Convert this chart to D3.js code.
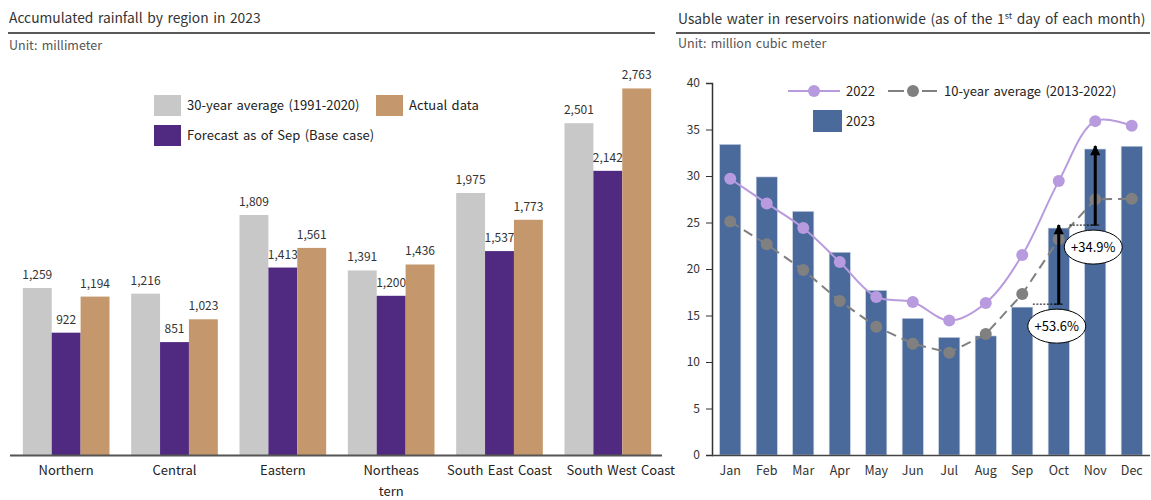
<!DOCTYPE html>
<html>
<head>
<meta charset="utf-8">
<script src="https://cdn.jsdelivr.net/npm/d3@7"></script>
<style>
  body { margin: 0; background: #fff; }
  svg text { font-family: "Noto Sans CJK KR", "Noto Sans", sans-serif; word-spacing: 1.5px; }
</style>
</head>
<body>
<div id="chart"></div>
<script>
// left chart data
var regions = ["Northern", "Central", "Eastern", "Northeastern", "South East Coast", "South West Coast"];
var regionLabels = [["Northern"], ["Central"], ["Eastern"], ["Northeas", "tern"], ["South East Coast"], ["South West Coast"]];
var avg30 = [1259, 1216, 1809, 1391, 1975, 2501];
var forecastSep = [922, 851, 1413, 1200, 1537, 2142];
var actual = [1194, 1023, 1561, 1436, 1773, 2763];

// right chart data
var months = ["Jan", "Feb", "Mar", "Apr", "May", "Jun", "Jul", "Aug", "Sep", "Oct", "Nov", "Dec"];
var water2023 = [33.4, 29.9, 26.2, 21.8, 17.7, 14.7, 12.65, 12.8, 15.9, 24.4, 32.9, 33.2];
var water2022 = [29.7, 27.05, 24.4, 20.75, 17.0, 16.45, 14.45, 16.35, 21.5, 29.45, 35.9, 35.4];
var avg10 = [25.1, 22.65, 19.9, 16.55, 13.8, 11.97, 11.0, 13.0, 17.3, 23.2, 27.5, 27.55];
var yTicks = [0, 5, 10, 15, 20, 25, 30, 35, 40];
var changeMonths = ["Oct", "Nov"];
var changeLabels = ["+53.6%", "+34.9%"];

var svg = d3.select("#chart").append("svg")
  .attr("width", 1151)
  .attr("height", 500);

// ---------- left: rainfall ----------
var left = svg.append("g");

left.append("text").attr("x", 9).attr("y", 23)
  .attr("font-size", 13.8).attr("fill", "#333")
  .text("Accumulated rainfall by region in 2023");
left.append("line").attr("x1", 8).attr("x2", 655).attr("y1", 33).attr("y2", 33)
  .attr("stroke", "#222").attr("stroke-width", 1.5);
left.append("text").attr("x", 9).attr("y", 50)
  .attr("font-size", 12.5).attr("fill", "#555")
  .text("Unit: millimeter");

var series = [
  { name: "30-year average (1991-2020)", values: avg30, color: "#c8c8c8" },
  { name: "Forecast as of Sep (Base case)", values: forecastSep, color: "#4f2a80" },
  { name: "Actual data", values: actual, color: "#c4986c" }
];

var x0 = d3.scaleBand().domain(regions).range([12, 662]).paddingInner(0.2).paddingOuter(0.1);
var x1 = d3.scaleBand().domain(d3.range(series.length)).range([0, x0.bandwidth()]);
var yL = d3.scaleLinear().domain([0, 3000]).range([455, 57]);

var groups = left.selectAll(".grp").data(regions).enter().append("g")
  .attr("transform", d => `translate(${x0(d)},0)`);

series.forEach(function(s, si) {
  groups.append("rect")
    .attr("x", x1(si))
    .attr("width", x1.bandwidth())
    .attr("y", (d, i) => yL(s.values[i]))
    .attr("height", (d, i) => 455 - yL(s.values[i]))
    .attr("fill", s.color);
  groups.append("text")
    .attr("x", x1(si) + x1.bandwidth() / 2)
    .attr("y", (d, i) => yL(s.values[i]) - 9)
    .attr("text-anchor", "middle")
    .attr("font-size", 12).attr("fill", "#333")
    .text((d, i) => d3.format(",")(s.values[i]));
});

left.append("line").attr("x1", 10).attr("x2", 662).attr("y1", 455.5).attr("y2", 455.5)
  .attr("stroke", "#555").attr("stroke-width", 2);

regions.forEach(function(r, i) {
  // the last label overflows the plot, so it starts at its band instead of centring
  var last = i === regions.length - 1;
  var lx = last ? x0(r) + 2 : x0(r) + x0.bandwidth() / 2;
  var t = left.append("text")
    .attr("x", lx)
    .attr("y", 475)
    .attr("text-anchor", last ? "start" : "middle")
    .attr("font-size", 13).attr("fill", "#222");
  regionLabels[i].forEach(function(line, li) {
    t.append("tspan").attr("x", lx).attr("dy", li ? 21 : 0).text(line);
  });
});

// legend
var legL = [
  { s: series[0], x: 154, y: 95 },
  { s: series[2], x: 376, y: 95 },
  { s: series[1], x: 154, y: 125 }
];
legL.forEach(function(l) {
  left.append("rect").attr("x", l.x).attr("y", l.y).attr("width", 27).attr("height", 21).attr("fill", l.s.color);
  left.append("text").attr("x", l.x + 33).attr("y", l.y + 15)
    .attr("font-size", 13).attr("fill", "#222").text(l.s.name);
});

// ---------- right: reservoirs ----------
var right = svg.append("g");

var title = right.append("text").attr("x", 678).attr("y", 24)
  .attr("font-size", 13.8).attr("fill", "#333");
title.append("tspan").text("Usable water in reservoirs nationwide (as of the 1");
title.append("tspan").attr("dy", -5).attr("font-size", 9).text("st");
title.append("tspan").attr("dy", 5).text(" day of each month)");
right.append("line").attr("x1", 676).attr("x2", 1150).attr("y1", 33).attr("y2", 33)
  .attr("stroke", "#222").attr("stroke-width", 1.5);
right.append("text").attr("x", 678).attr("y", 48)
  .attr("font-size", 12.5).attr("fill", "#555")
  .text("Unit: million cubic meter");

var xR = d3.scaleBand().domain(months).range([712, 1150]).paddingInner(0.42).paddingOuter(0.21);
var yR = d3.scaleLinear().domain([0, 40]).range([455, 83]);
var cx = d => xR(d) + xR.bandwidth() / 2;

right.selectAll(".bar").data(months).enter().append("rect")
  .attr("x", d => xR(d))
  .attr("width", xR.bandwidth())
  .attr("y", (d, i) => yR(water2023[i]))
  .attr("height", (d, i) => 455 - yR(water2023[i]))
  .attr("fill", "#4a6a9b")
  .attr("stroke", "#c9d3e3").attr("stroke-width", 0.6);

var yAxis = right.append("g")
  .attr("transform", "translate(712,0)")
  .call(d3.axisLeft(yR).tickValues(yTicks).tickSize(6).tickPadding(6));
yAxis.select(".domain").attr("stroke", "#333").attr("stroke-width", 1.5);
yAxis.selectAll(".tick line").attr("stroke", "#333");
yAxis.selectAll("text").attr("font-size", 12).attr("fill", "#333")
  .attr("font-family", "Noto Sans CJK KR, Noto Sans, sans-serif");

right.append("line").attr("x1", 712).attr("x2", 1150).attr("y1", 455.5).attr("y2", 455.5)
  .attr("stroke", "#444").attr("stroke-width", 1.5);
right.selectAll(".mlab").data(months).enter().append("text")
  .attr("x", d => cx(d)).attr("y", 475)
  .attr("text-anchor", "middle").attr("font-size", 12.5).attr("fill", "#333")
  .text(d => d);

// 10-year average dashed
var lineAvg = d3.line().x((d, i) => cx(months[i])).y(d => yR(d));
right.append("path").datum(avg10)
  .attr("d", lineAvg)
  .attr("fill", "none").attr("stroke", "#808080").attr("stroke-width", 2)
  .attr("stroke-dasharray", "10,6");
right.selectAll(".avgpt").data(avg10).enter().append("circle")
  .attr("cx", (d, i) => cx(months[i])).attr("cy", d => yR(d)).attr("r", 6)
  .attr("fill", "#808080");

// 2022 smooth
var line22 = d3.line().x((d, i) => cx(months[i])).y(d => yR(d)).curve(d3.curveCatmullRom);
right.append("path").datum(water2022)
  .attr("d", line22)
  .attr("fill", "none").attr("stroke", "#b89ade").attr("stroke-width", 2);
right.selectAll(".pt22").data(water2022).enter().append("circle")
  .attr("cx", (d, i) => cx(months[i])).attr("cy", d => yR(d)).attr("r", 6)
  .attr("fill", "#b89ade");

// change arrows
svg.append("defs").append("marker")
  .attr("id", "arr").attr("viewBox", "0 0 10 10").attr("refX", 9).attr("refY", 5)
  .attr("markerWidth", 3.6).attr("markerHeight", 3.4).attr("orient", "auto")
  .append("path").attr("d", "M0,0L10,5L0,10Z").attr("fill", "#000");

changeMonths.forEach(function(m, k) {
  var i = months.indexOf(m);
  var xPrevEdge = xR(months[i - 1]) + xR.bandwidth();
  var y0 = yR(water2023[i - 1]) - 3;
  var y1 = yR(water2023[i]) - 3;
  right.append("line").attr("x1", xPrevEdge).attr("x2", cx(m)).attr("y1", y0).attr("y2", y0)
    .attr("stroke", "#000").attr("stroke-width", 1).attr("stroke-dasharray", "2,1.5");
  right.append("line").attr("x1", cx(m) - 4).attr("x2", cx(m) + 4).attr("y1", y0).attr("y2", y0)
    .attr("stroke", "#000").attr("stroke-width", 1);
  right.append("line").attr("x1", cx(m)).attr("x2", cx(m)).attr("y1", y0).attr("y2", y1)
    .attr("stroke", "#000").attr("stroke-width", 3).attr("marker-end", "url(#arr)");
  right.append("ellipse").attr("cx", cx(m) - 2).attr("cy", y0 + 22).attr("rx", 29).attr("ry", 17)
    .attr("fill", "#fff").attr("stroke", "#000").attr("stroke-width", 1);
  right.append("text").attr("x", cx(m) - 2).attr("y", y0 + 26.5)
    .attr("text-anchor", "middle").attr("font-size", 13).attr("fill", "#000")
    .text(changeLabels[k]);
});

// legend right
right.append("line").attr("x1", 788).attr("x2", 840).attr("y1", 91).attr("y2", 91)
  .attr("stroke", "#b89ade").attr("stroke-width", 2);
right.append("circle").attr("cx", 814).attr("cy", 91).attr("r", 6).attr("fill", "#b89ade");
right.append("text").attr("x", 846).attr("y", 95.5).attr("font-size", 13).attr("fill", "#222").text("2022");
right.append("line").attr("x1", 888).attr("x2", 904).attr("y1", 91).attr("y2", 91)
  .attr("stroke", "#808080").attr("stroke-width", 2);
right.append("line").attr("x1", 922).attr("x2", 937).attr("y1", 91).attr("y2", 91)
  .attr("stroke", "#808080").attr("stroke-width", 2);
right.append("circle").attr("cx", 913).attr("cy", 91).attr("r", 6).attr("fill", "#808080");
right.append("text").attr("x", 944).attr("y", 95.5).attr("font-size", 13).attr("fill", "#222")
  .text("10-year average (2013-2022)");
right.append("rect").attr("x", 813).attr("y", 110).attr("width", 29).attr("height", 22).attr("fill", "#4a6a9b");
right.append("text").attr("x", 846).attr("y", 125.5).attr("font-size", 13).attr("fill", "#222").text("2023");
</script>
</body>
</html>
